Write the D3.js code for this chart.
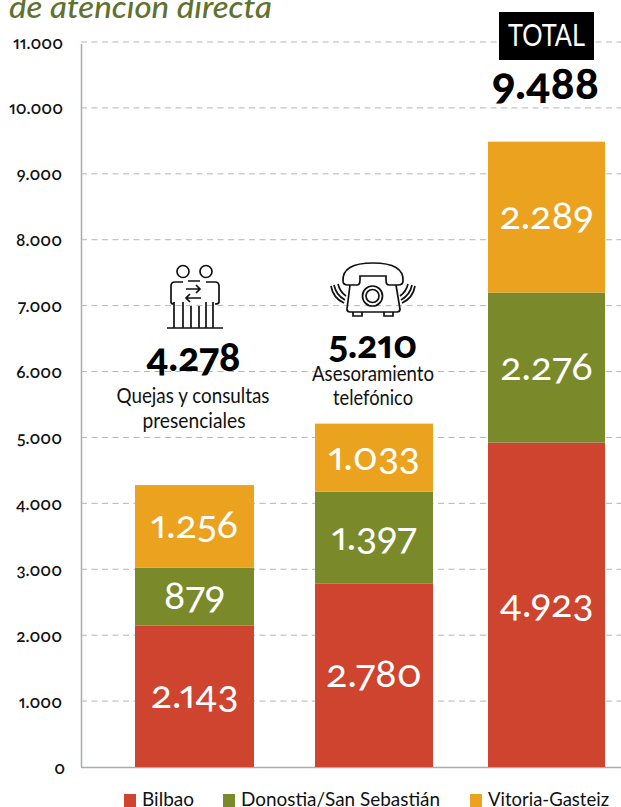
<!DOCTYPE html>
<html><head><meta charset="utf-8"><script src="https://cdn.jsdelivr.net/npm/d3@7"></script>
<style>html,body{margin:0;background:#fff;overflow:hidden}svg{display:block}
text{font-family:Lato,"Open Sans",sans-serif;font-feature-settings:"onum" 1,"pnum" 1}</style></head><body><div id="c"></div>
<script>
const categories=["Quejas y consultas presenciales","Asesoramiento telefónico","TOTAL"];
const seriesNames=["Bilbao","Donostia/San Sebastián","Vitoria-Gasteiz"];
const bilbao=[2143,2780,4923];
const donostia=[879,1397,2276];
const vitoria=[1256,1033,2289];
const totals=[4278,5210,9488];
const yTicks=[0,1000,2000,3000,4000,5000,6000,7000,8000,9000,10000,11000];
const colors=["#cf442e","#7a8a2b","#eba31f"];
const fmt=n=>String(n).replace(/\B(?=(\d{3})+$)/g,".");
const svg=d3.select("#c").append("svg").attr("width",621).attr("height",807);
const y=d3.scaleLinear().domain([0,11000]).range([767,42]);
const x=d3.scaleLinear().domain([0,1,2]).range([194.5,374,546.5]);
const barW=[119,118,117];
svg.append("text").text("de atención directa").attr("x",9).attr("y",18).attr("fill","#5f7230").attr("font-size",31).attr("font-style","italic").attr("font-weight",500).attr("textLength",263).attr("lengthAdjust","spacingAndGlyphs");
const g=svg.append("g");
g.selectAll("line.g").data(yTicks.filter(d=>d>0)).join("line").attr("x1",81).attr("x2",621).attr("y1",d=>y(d)).attr("y2",d=>y(d)).attr("stroke","#b5b5b5").attr("stroke-width",1).attr("stroke-dasharray","6 4.5");
g.append("line").attr("x1",81.5).attr("x2",81.5).attr("y1",y(11000)+2).attr("y2",y(0)).attr("stroke","#a9abb0").attr("stroke-width",1.5);
g.append("line").attr("x1",81).attr("x2",621).attr("y1",y(0)+.5).attr("y2",y(0)+.5).attr("stroke","#a9abb0").attr("stroke-width",1.5);
svg.selectAll("text.t").data(yTicks).join("text").attr("class","t").text(fmt).attr("x",d=>d==0?65:d>=10000?63:62).attr("text-anchor","end").attr("y",d=>y(d)+6.5).attr("font-size",17).attr("font-weight",600).attr("fill","#111");
const stack=d3.stack().keys([0,1,2]).value((d,k)=>d[k])(d3.transpose([bilbao,donostia,vitoria]));
stack.forEach((s,k)=>{
 svg.selectAll(null).data(s).join("rect").attr("x",(d,i)=>x(i)-barW[i]/2).attr("width",(d,i)=>barW[i]).attr("y",d=>y(d[1])).attr("height",d=>y(d[0])-y(d[1])).attr("fill",colors[k]);
 svg.selectAll(null).data(s).join("text").text(d=>fmt(d[1]-d[0])).attr("x",(d,i)=>x(i)).attr("y",d=>(y(d[0])+y(d[1]))/2+12).attr("text-anchor","middle").attr("fill","#fff").attr("font-size",39.5).attr("font-weight",400);
});
const totalY=[371,358,99],totalSize=[39.5,38,44];
svg.selectAll(null).data(totals).join("text").text(fmt).attr("x",(d,i)=>x(i)-1).attr("y",(d,i)=>totalY[i]).attr("text-anchor","middle").attr("font-size",(d,i)=>totalSize[i]).attr("font-weight",900).attr("fill","#000");
const lab=[["Quejas y consultas",193,403,153],["presenciales",194,428,103],["Asesoramiento",373,381,122],["telefónico",373,405,80]];
svg.selectAll(null).data(lab).join("text").text(d=>d[0]).attr("x",d=>d[1]).attr("y",d=>d[2]).attr("text-anchor","middle").attr("font-size",21).attr("fill","#111").attr("textLength",d=>d[3]).attr("lengthAdjust","spacingAndGlyphs");
svg.append("rect").attr("x",499).attr("y",12).attr("width",95).attr("height",48).attr("fill","#000");
svg.append("text").text(categories[2]).attr("x",546.5).attr("y",46).attr("text-anchor","middle").attr("fill","#fff").attr("font-size",31).attr("textLength",77).attr("lengthAdjust","spacingAndGlyphs");
const lx=[124,223,470];
const lw=[52,199,121];
seriesNames.forEach((n,i)=>{
 svg.append("rect").attr("x",lx[i]).attr("y",794).attr("width",12).attr("height",13).attr("fill",colors[i]);
 svg.append("text").text(n).attr("x",lx[i]+18).attr("y",806).attr("font-size",20).attr("fill","#111").attr("textLength",lw[i]).attr("lengthAdjust","spacingAndGlyphs");
});
const ic=svg.append("g").attr("fill","none").attr("stroke","#111").attr("stroke-width",1.7);
const p=ic.append("g");
p.append("circle").attr("cx",183).attr("cy",271.5).attr("r",6);
p.append("circle").attr("cx",206).attr("cy",271.5).attr("r",6);
p.append("path").attr("d","M167 328H223M183 282H175Q171 282 171 286V302Q171 304 174 304M206 282H215Q219 282 219 286V302Q219 304 215 304M188 281H200M183 302V328M191 306V328M199 306V328M206 302V328M174 302V328M213 302V328M186 289H200M196 285L200 289L196 293M201 298H186M190 294L186 298L190 302");
const t=ic.append("g");
t.append("path").attr("d","M343 281Q342 263 373 263Q404 263 403 281Q403 285 398 285H389Q386 285 386 280V276H360V280Q360 285 357 285H348Q343 285 343 281Z");
t.append("path").attr("d","M350 285L347 309Q347 312 350 312H397Q400 312 400 309L396 285");
t.append("circle").attr("cx",372.5).attr("cy",296).attr("r",10);
t.append("circle").attr("cx",372.5).attr("cy",296).attr("r",6.5);
t.append("path").attr("d","M353 312V316H362V312M384 312V316H393V312M338 284Q340 292 346 296M334 285Q336 295 345 300M331 286Q333 298 344 303M408 284Q406 292 400 296M412 285Q410 295 401 300M415 286Q413 298 402 303");
</script></body></html>
